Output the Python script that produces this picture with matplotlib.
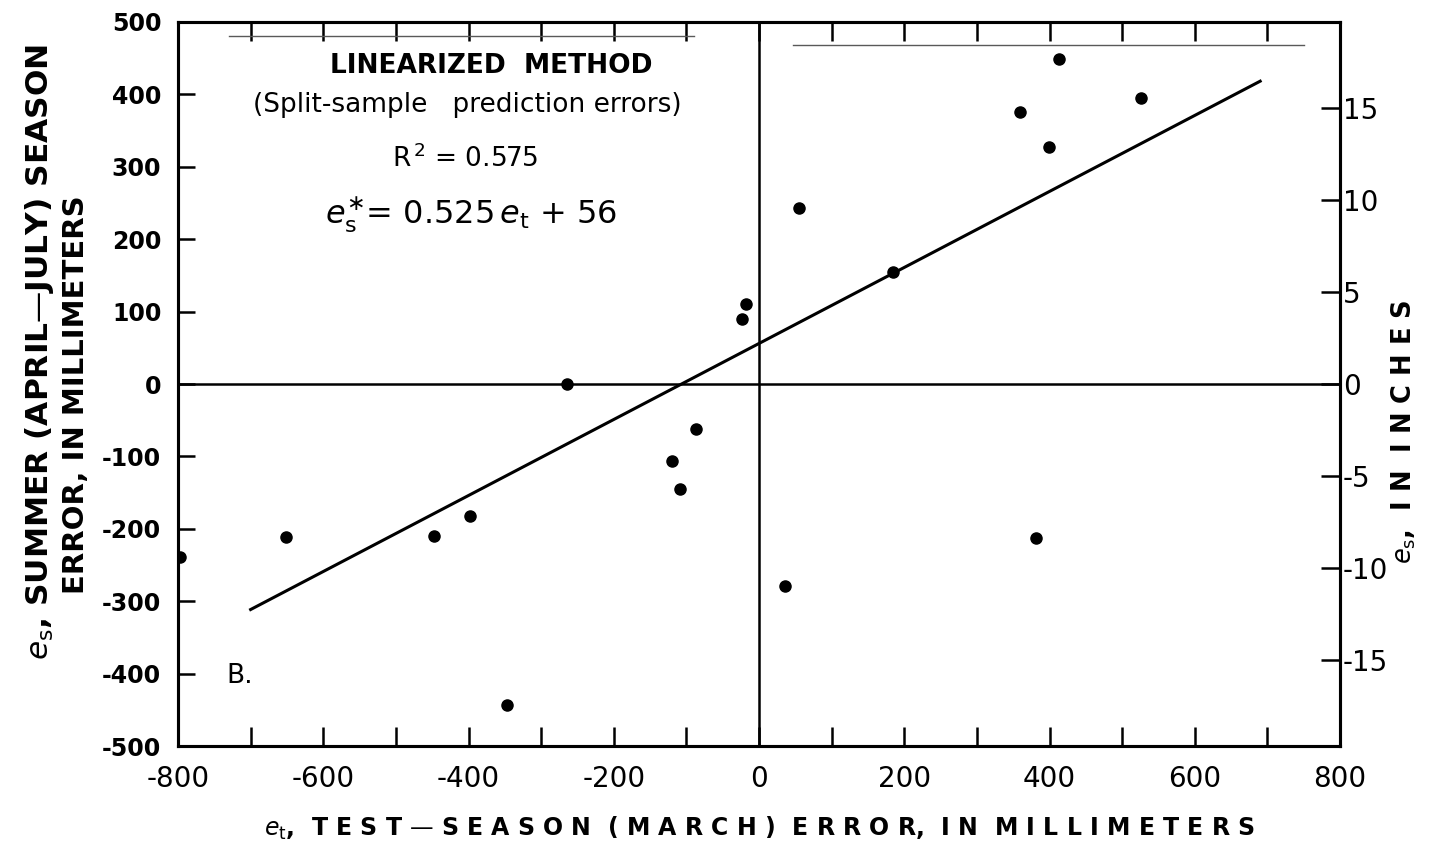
import numpy as np
import matplotlib.pyplot as plt
from matplotlib.ticker import MultipleLocator

plt.rcParams['axes.unicode_minus'] = False
plt.rcParams['mathtext.fontset'] = 'dejavusans'

# --- data (millimetres) ---
test_err = [-797, -651, -448, -398, -347, -264, -120, -109, -87, -23, -18,
            36, 55, 185, 360, 382, 399, 413, 526]
summer_err = [-239, -211, -210, -182, -443, 0, -106, -145, -62, 90, 110,
              -279, 243, 155, 376, -213, 327, 449, 395]

# regression line e_s* = 0.525 e_t + 56, drawn over this range
slope = 0.525
intercept = 56
line_x = [-700, 690]

# faint rule lines printed above the box (x range, y level)
rule_lines = [([-730, -90], 480), ([47, 750], 468)]

mm_per_inch = 25.4
right_ticks = [-15, -10, -5, 0, 5, 10, 15]

fig = plt.figure(figsize=(14.32, 8.56), dpi=100)
ax = fig.add_axes([0.1243, 0.1285, 0.8115, 0.8458])

ax.set_xlim(-800, 800)
ax.set_ylim(-500, 500)

# zero lines
ax.axvline(0, color='black', lw=1.8)
ax.axhline(0, color='black', lw=1.8)

for xs, yv in rule_lines:
    ax.plot(xs, [yv, yv], color='0.35', lw=1.0)

# regression line
lx = np.array(line_x)
ax.plot(lx, slope * lx + intercept, color='black', lw=2.2)

# points
ax.plot(test_err, summer_err, 'o', color='black', markersize=8, zorder=5)

# spines / ticks
for s in ax.spines.values():
    s.set_linewidth(2.2)

ax.xaxis.set_minor_locator(MultipleLocator(100))
ax.tick_params(axis='x', which='both', direction='in', length=14, width=1.8,
               top=True, labelsize=20, pad=14)
ax.tick_params(axis='y', which='major', direction='in', length=12, width=1.8,
               labelsize=17, pad=12)
ax.set_xticks([-800, -600, -400, -200, 0, 200, 400, 600, 800])
ax.set_xticklabels(['-800', '-600', '-400', '-200', '0', '200', '400', '600', '800'])
ax.set_yticks(range(-500, 501, 100))
ax.set_yticklabels([str(v) for v in range(-500, 501, 100)], fontweight='bold')

# right axis in inches
ax2 = ax.twinx()
ax2.set_ylim(-500 / mm_per_inch, 500 / mm_per_inch)
ax2.set_yticks(right_ticks)
ax2.set_yticklabels([str(t) for t in right_ticks])
ax2.tick_params(axis='y', direction='in', length=14, width=1.8, labelsize=20, pad=2)
for s in ax2.spines.values():
    s.set_linewidth(2.2)

# annotations inside the plot
ax.text(-369, 439, 'LINEARIZED  METHOD', ha='center', va='center',
        fontsize=19, fontweight='bold')
ax.text(-402, 385, '(Split-sample   prediction errors)', ha='center', va='center',
        fontsize=19)
ax.text(-404, 311, r'R$^{\,2}$ = 0.575', ha='center', va='center', fontsize=19)
ax.text(-397, 233, r'$\mathit{e}_{\rm s}^{\ast}$= 0.525$\,\mathit{e}_{\rm t}$ + 56',
        ha='center', va='center', fontsize=23)
ax.text(-715, -403, 'B.', ha='center', va='center', fontsize=19)

# axis titles
fig.text(759 / 1432, 1 - 828 / 856,
         r'$\mathit{e}_{\rm t}$,  T E S T — S E A S O N  ( M A R C H )  E R R O R,  I N  M I L L I M E T E R S',
         ha='center', va='center', fontsize=17, fontweight='bold')
fig.text(40 / 1432, 1 - 352 / 856,
         r'$\mathit{e}_{\rm s}$, SUMMER (APRIL—JULY) SEASON',
         rotation=90, ha='center', va='center', fontsize=22.5, fontweight='bold')
fig.text(76 / 1432, 1 - 395 / 856, 'ERROR, IN MILLIMETERS',
         rotation=90, ha='center', va='center', fontsize=21, fontweight='bold')
fig.text(1404 / 1432, 1 - 432 / 856, r'$\mathit{e}_{\rm s}$,  I N  I N C H E S',
         rotation=90, ha='center', va='center', fontsize=18.5, fontweight='bold')

fig.savefig('out.png', dpi=100)
